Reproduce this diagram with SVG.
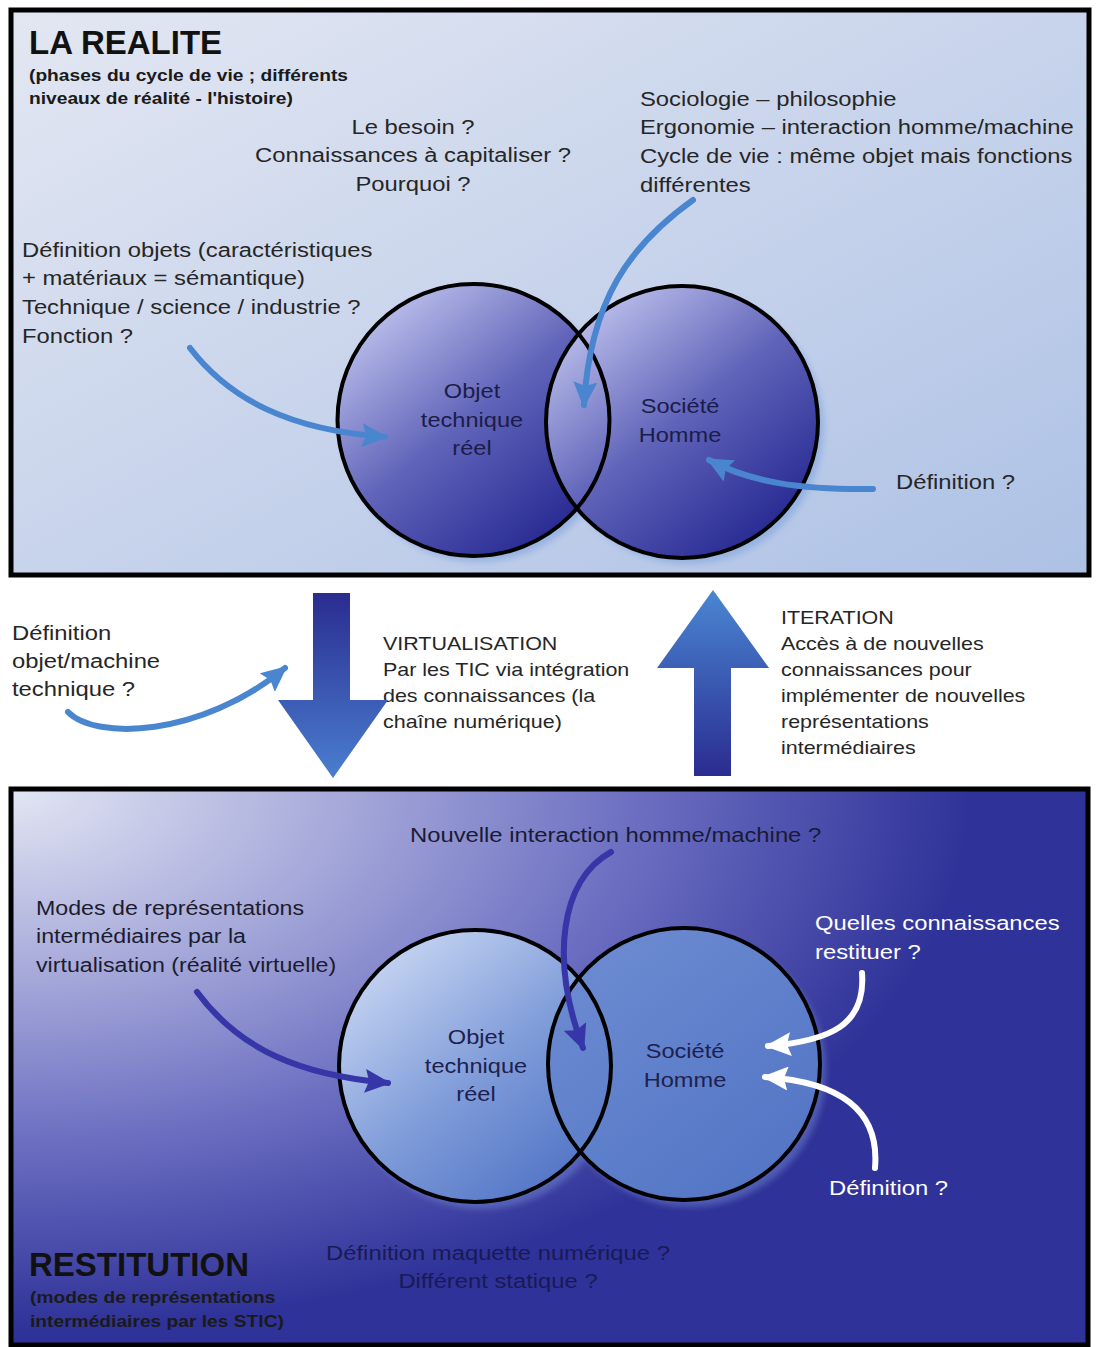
<svg xmlns="http://www.w3.org/2000/svg" width="1096" height="1347" viewBox="0 0 1096 1347">
<defs>
<style>
.t{font-family:"Liberation Sans",Arial,sans-serif;font-size:20px;fill:#262626}
.m{font-family:"Liberation Sans",Arial,sans-serif;font-size:18.5px;fill:#262626}
.h{font-family:"Liberation Sans",Arial,sans-serif;font-size:33px;font-weight:bold;fill:#111}
.s{font-family:"Liberation Sans",Arial,sans-serif;font-size:17px;font-weight:bold;fill:#1a1a1a}
.c{text-anchor:middle}
.lab{fill:#1c1c4a}
.w{fill:#ffffff}
.arr{fill:none;stroke-width:6;stroke-linecap:round}
.blue{stroke:#4a86d0}
.navy{stroke:#3636a8}
.white{stroke:#ffffff}
.ring{fill:none;stroke:#000;stroke-width:4}
.box{stroke:#000;stroke-width:5}
</style>
<linearGradient id="gTop" x1="0" y1="0" x2="1" y2="1">
<stop offset="0" stop-color="#e3e7f2"/>
<stop offset="1" stop-color="#adc1e5"/>
</linearGradient>
<radialGradient id="gBot" gradientUnits="userSpaceOnUse" cx="0" cy="0" r="1" gradientTransform="translate(11,789) scale(960,540)">
<stop offset="0" stop-color="#e3e6f3"/>
<stop offset="0.35" stop-color="#a5a8d9"/>
<stop offset="0.65" stop-color="#6c6fc1"/>
<stop offset="1" stop-color="#2f3298"/>
</radialGradient>
<linearGradient id="gCirc" x1="0.15" y1="0.1" x2="0.8" y2="0.9">
<stop offset="0" stop-color="#babdea"/>
<stop offset="0.5" stop-color="#6064b9"/>
<stop offset="1" stop-color="#2a2c94"/>
</linearGradient>
<linearGradient id="gCircL" x1="0.15" y1="0.1" x2="0.8" y2="0.9">
<stop offset="0" stop-color="#c4d3f1"/>
<stop offset="0.55" stop-color="#7f9cd9"/>
<stop offset="1" stop-color="#5678c7"/>
</linearGradient>
<linearGradient id="gCircR" x1="0.15" y1="0.1" x2="0.8" y2="0.9">
<stop offset="0" stop-color="#6b8ad1"/>
<stop offset="1" stop-color="#5476c5"/>
</linearGradient>
<linearGradient id="gDown" gradientUnits="userSpaceOnUse" x1="0" y1="593" x2="0" y2="778">
<stop offset="0" stop-color="#2a2c90"/>
<stop offset="1" stop-color="#4a7ecf"/>
</linearGradient>
<linearGradient id="gUp" gradientUnits="userSpaceOnUse" x1="0" y1="590" x2="0" y2="776">
<stop offset="0" stop-color="#4a86d2"/>
<stop offset="1" stop-color="#2a2c90"/>
</linearGradient>
<filter id="blur" x="-20%" y="-20%" width="140%" height="140%"><feGaussianBlur stdDeviation="3"/></filter>
<marker id="mBlue" markerUnits="userSpaceOnUse" markerWidth="26" markerHeight="24" viewBox="0 0 26 24" refX="23" refY="12" orient="auto"><path d="M0,0 L26,12 L0,24 L4,12 z" fill="#4a86d0"/></marker>
<marker id="mNavy" markerUnits="userSpaceOnUse" markerWidth="26" markerHeight="24" viewBox="0 0 26 24" refX="23" refY="12" orient="auto"><path d="M0,0 L26,12 L0,24 L4,12 z" fill="#3636a8"/></marker>
<marker id="mWhite" markerUnits="userSpaceOnUse" markerWidth="26" markerHeight="24" viewBox="0 0 26 24" refX="23" refY="12" orient="auto"><path d="M0,0 L26,12 L0,24 L4,12 z" fill="#ffffff"/></marker>
</defs>

<rect width="1096" height="1347" fill="#ffffff"/>

<!-- TOP BOX -->
<g id="realite">
<rect class="box" x="11" y="10" width="1078" height="565" fill="url(#gTop)"/>
<text class="h" x="29" y="54">LA REALITE</text>
<g transform="translate(29,81) scale(1.13,1)"><text class="s"><tspan x="0" y="0">(phases du cycle de vie ; différents</tspan><tspan x="0" y="23.5">niveaux de réalité - l'histoire)</tspan></text></g>
</g>

<g id="besoin" transform="translate(413,134) scale(1.19,1)"><text class="t c"><tspan x="0" y="0">Le besoin ?</tspan><tspan x="0" y="28.5">Connaissances à capitaliser ?</tspan><tspan x="0" y="57">Pourquoi ?</tspan></text></g>

<g id="sociologie" transform="translate(640,106) scale(1.19,1)"><text class="t"><tspan x="0" y="0">Sociologie – philosophie</tspan><tspan x="0" y="28.5">Ergonomie – interaction homme/machine</tspan><tspan x="0" y="57">Cycle de vie : même objet mais fonctions</tspan><tspan x="0" y="86">différentes</tspan></text></g>

<g id="def-objets" transform="translate(22,257) scale(1.19,1)"><text class="t"><tspan x="0" y="0">Définition objets (caractéristiques</tspan><tspan x="0" y="28.5">+ matériaux = sémantique)</tspan><tspan x="0" y="57">Technique / science / industrie ?</tspan><tspan x="0" y="86">Fonction ?</tspan></text></g>

<g id="def-top" transform="translate(896,489) scale(1.19,1)"><text class="t">Définition ?</text></g>

<g id="top-circles">
<circle cx="479" cy="426" r="136" fill="#7aa0dc" opacity="0.55" filter="url(#blur)"/>
<circle cx="688" cy="428" r="136" fill="#7aa0dc" opacity="0.55" filter="url(#blur)"/>
<circle cx="473.5" cy="420" r="136" fill="url(#gCirc)"/>
<circle cx="682" cy="422" r="136" fill="url(#gCirc)"/>
<circle class="ring" cx="473.5" cy="420" r="136"/>
<circle class="ring" cx="682" cy="422" r="136"/>
</g>
<g id="objet-top" transform="translate(472,398) scale(1.18,1)"><text class="t c lab"><tspan x="0" y="0">Objet</tspan><tspan x="0" y="29">technique</tspan><tspan x="0" y="57">réel</tspan></text></g>
<g id="societe-top" transform="translate(680,413) scale(1.18,1)"><text class="t c lab"><tspan x="0" y="0">Société</tspan><tspan x="0" y="29">Homme</tspan></text></g>

<!-- MIDDLE TEXTS -->
<g id="def-machine" transform="translate(12,640) scale(1.19,1)"><text class="t"><tspan x="0" y="0">Définition</tspan><tspan x="0" y="28">objet/machine</tspan><tspan x="0" y="56">technique ?</tspan></text></g>
<g id="virtualisation" transform="translate(383,650) scale(1.16,1)"><text class="m"><tspan x="0" y="0">VIRTUALISATION</tspan><tspan x="0" y="26">Par les TIC via intégration</tspan><tspan x="0" y="52">des connaissances (la</tspan><tspan x="0" y="78">chaîne numérique)</tspan></text></g>
<g id="iteration" transform="translate(781,624) scale(1.16,1)"><text class="m"><tspan x="0" y="0">ITERATION</tspan><tspan x="0" y="26">Accès à de nouvelles</tspan><tspan x="0" y="52">connaissances pour</tspan><tspan x="0" y="78">implémenter de nouvelles</tspan><tspan x="0" y="104">représentations</tspan><tspan x="0" y="130">intermédiaires</tspan></text></g>

<!-- BOTTOM BOX -->
<g id="restitution">
<rect class="box" x="11" y="789" width="1077" height="556" fill="url(#gBot)"/>
<text class="h" x="29" y="1276">RESTITUTION</text>
<g transform="translate(30,1303) scale(1.13,1)"><text class="s"><tspan x="0" y="0">(modes de représentations</tspan><tspan x="0" y="24">intermédiaires par les STIC)</tspan></text></g>
</g>

<g id="nouvelle" transform="translate(410,842) scale(1.19,1)"><text class="t" style="fill:#1a1a33">Nouvelle interaction homme/machine ?</text></g>
<g id="modes" transform="translate(36,915) scale(1.16,1)"><text class="t" style="fill:#1c1c30"><tspan x="0" y="0">Modes de représentations</tspan><tspan x="0" y="28.5">intermédiaires par la</tspan><tspan x="0" y="57">virtualisation (réalité virtuelle)</tspan></text></g>
<g id="quelles" transform="translate(815,930) scale(1.19,1)"><text class="t w"><tspan x="0" y="0">Quelles connaissances</tspan><tspan x="0" y="29">restituer ?</tspan></text></g>
<g id="def-bot" transform="translate(829,1195) scale(1.19,1)"><text class="t w">Définition ?</text></g>
<g id="maquette" transform="translate(498,1260) scale(1.19,1)"><text class="t c" style="fill:#191a55"><tspan x="0" y="0">Définition maquette numérique ?</tspan><tspan x="0" y="28">Différent statique ?</tspan></text></g>

<g id="bottom-circles">
<circle cx="481" cy="1073" r="136" fill="#6f86d0" opacity="0.5" filter="url(#blur)"/>
<circle cx="690" cy="1071" r="136" fill="#6f86d0" opacity="0.5" filter="url(#blur)"/>
<circle cx="475" cy="1066" r="136" fill="url(#gCircL)"/>
<circle cx="684" cy="1064" r="136" fill="url(#gCircR)"/>
<circle class="ring" cx="475" cy="1066" r="136"/>
<circle class="ring" cx="684" cy="1064" r="136"/>
</g>
<g id="objet-bot" transform="translate(476,1044) scale(1.18,1)"><text class="t c" style="fill:#1e2050"><tspan x="0" y="0">Objet</tspan><tspan x="0" y="29">technique</tspan><tspan x="0" y="57">réel</tspan></text></g>
<g id="societe-bot" transform="translate(685,1058) scale(1.18,1)"><text class="t c" style="fill:#1e2050"><tspan x="0" y="0">Société</tspan><tspan x="0" y="29">Homme</tspan></text></g>

<!-- CONNECTORS -->
<g id="connectors">
<polygon points="313,593 350,593 350,700 388,700 333,778 278,700 313,700" fill="url(#gDown)"/>
<polygon points="713,590 769,668 731,668 731,776 694,776 694,668 657,668" fill="url(#gUp)"/>
<path class="arr blue" d="M190,348 C230,400 290,430 385,437" marker-end="url(#mBlue)"/>
<path class="arr blue" d="M693,200 C630,245 590,300 584,405" marker-end="url(#mBlue)"/>
<path class="arr blue" d="M873,489 C800,490 750,482 709,460" marker-end="url(#mBlue)"/>
<path class="arr blue" d="M68,712 C95,740 200,738 285,668" marker-end="url(#mBlue)"/>
<path class="arr navy" d="M197,992 C240,1050 300,1075 388,1083" marker-end="url(#mNavy)"/>
<path class="arr navy" d="M611,852 C560,880 550,960 583,1048" marker-end="url(#mNavy)"/>
<path class="arr white" d="M862,973 C866,1025 830,1041 768,1046" marker-end="url(#mWhite)"/>
<path class="arr white" d="M875,1168 C880,1110 840,1082 765,1077" marker-end="url(#mWhite)"/>
</g>
</svg>
